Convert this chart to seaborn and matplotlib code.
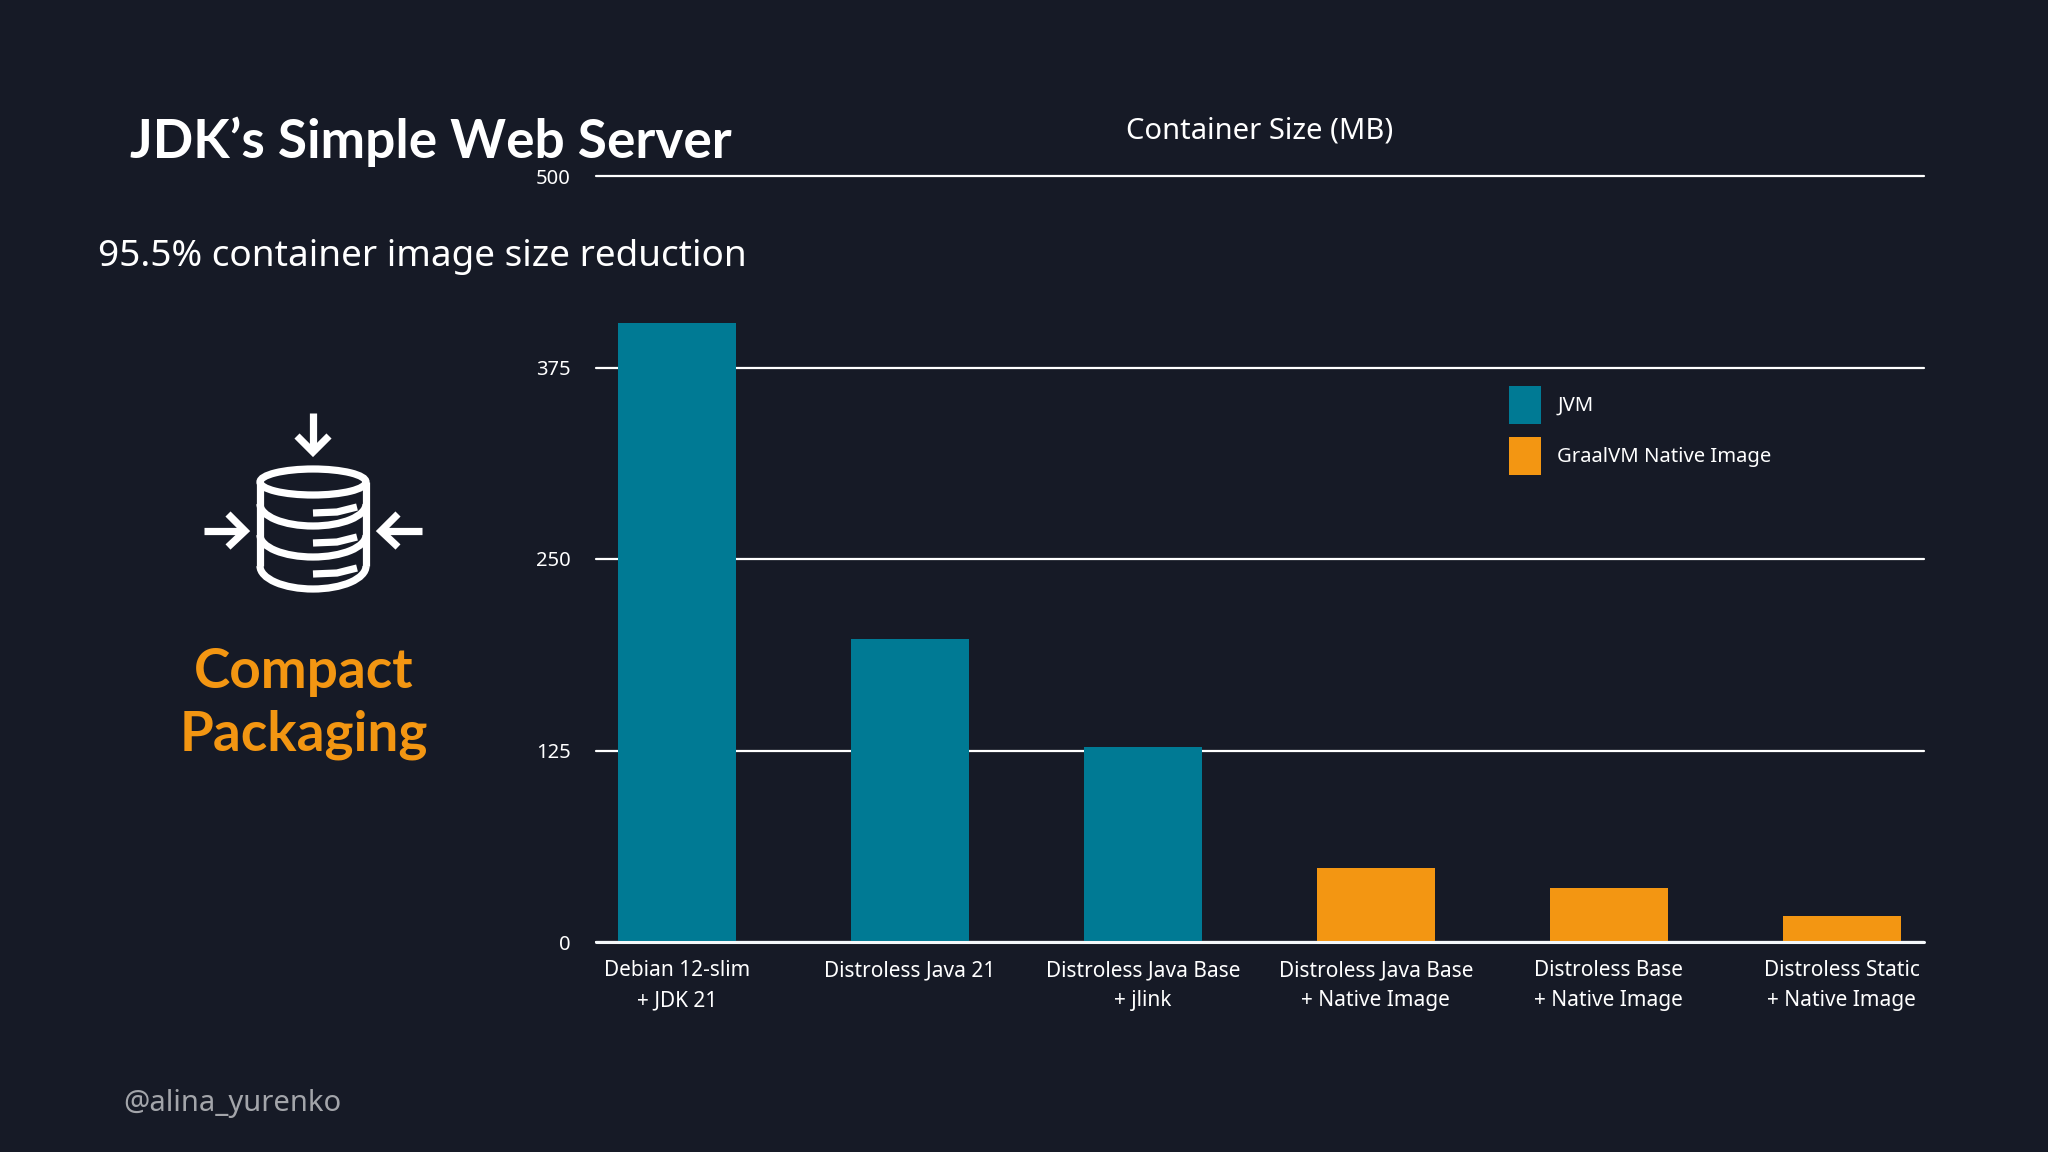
import matplotlib
matplotlib.use("Agg")
import matplotlib.pyplot as plt
from matplotlib.patches import Arc, Ellipse
import pandas as pd
import seaborn as sns

# Values
categories = ["Debian 12-slim\n+ JDK 21", "Distroless Java 21", "Distroless Java Base\n+ jlink",
              "Distroless Java Base\n+ Native Image", "Distroless Base\n+ Native Image",
              "Distroless Static\n+ Native Image"]
sizes_mb = [404, 198, 127, 48, 35, 17]
runtime = ["JVM", "JVM", "JVM", "GraalVM Native Image", "GraalVM Native Image", "GraalVM Native Image"]
y_ticks = [0, 125, 250, 375, 500]

BG = "#161a26"
TEAL = "#007a94"
ORANGE = "#f39612"
W, H = 2048, 1152

sns.set_theme(style="white")
plt.rcParams["font.family"] = ["Noto Sans", "DejaVu Sans"]
plt.rcParams["text.color"] = "white"

df = pd.DataFrame({"category": categories, "size": sizes_mb, "runtime": runtime})

fig = plt.figure(figsize=(W / 100, H / 100), dpi=100, facecolor=BG)
ax = fig.add_axes([596 / W, 1 - 942 / H, (1924 - 596) / W, (942 - 176) / H], facecolor=BG)

sns.barplot(data=df, x="category", y="size", hue="runtime", dodge=False, width=0.505, saturation=1,
            palette={"JVM": TEAL, "GraalVM Native Image": ORANGE}, ax=ax, zorder=3, linewidth=0)

# Axes
ax.set_xlim(-0.3475, 5.353)
ax.set_ylim(0, 500)
ax.set_yticks(y_ticks)
ax.set_xlabel("")
ax.set_ylabel("")
sns.despine(ax=ax, left=True, bottom=True, top=True, right=True)
ax.grid(axis="y", color="white", lw=1.6)
ax.set_axisbelow(True)
for line in ax.get_ygridlines():
    line.set_clip_on(False)
ax.axhline(0, color="#f4f8fa", lw=2.2, zorder=5, clip_on=False)
ax.tick_params(axis="y", length=0, pad=18, labelsize=14.5, labelcolor="white")
ax.tick_params(axis="x", length=0, pad=13, labelsize=15, labelcolor="white")
for label in ax.get_xticklabels():
    label.set_linespacing(1.58)
ax.set_title("Container Size (MB)", color="white", fontsize=21, y=1, pad=27, x=0.4995)

# Legend
leg = ax.legend(loc="upper left", bbox_to_anchor=(1509 / W, 1 - 386 / H), bbox_transform=fig.transFigure,
                frameon=False, fontsize=14.6, borderpad=0, borderaxespad=0, handlelength=1.58,
                handleheight=2.5, handletextpad=0.8, labelspacing=0.66, labelcolor="white")
for handle in leg.get_patches():
    handle.set_linewidth(0)

# Slide layer in pixel coordinates: text and icon
over = fig.add_axes([0, 0, 1, 1], zorder=10)
over.set_xlim(0, W)
over.set_ylim(H, 0)
over.axis("off")
over.patch.set_alpha(0)

over.text(130, 142, "JDK’s Simple Web Server", fontsize=38.3, fontfamily="Lato", fontweight="bold", va="center")
over.text(98, 257, "95.5% container image size reduction", fontsize=26.6, va="center")
over.text(304, 672, "Compact", fontsize=39.5, fontfamily="Lato", fontweight="bold", color=ORANGE, ha="center", va="center")
over.text(304, 735, "Packaging", fontsize=39.5, fontfamily="Lato", fontweight="bold", color=ORANGE, ha="center", va="center")
over.text(123, 1104, "@alina_yurenko", fontsize=21, color="#a3a5aa", va="center")

# Compress icon
lw = 5.2
def stroke(xs, ys):
    over.plot(xs, ys, color="white", lw=lw, solid_capstyle="butt", solid_joinstyle="miter")

stroke([313, 313], [413, 452])
stroke([297, 313, 329], [436, 452, 436])
stroke([204, 244], [531, 531])
stroke([228, 245, 228], [514, 531, 547])
stroke([422, 382], [531, 531])
stroke([398, 381, 398], [514, 531, 547])

over.add_patch(Ellipse((313, 482), 106, 26, fill=False, ec="white", lw=lw))
stroke([260, 260], [482, 566])
stroke([366, 366], [482, 566])
for cy in [504, 535, 566]:
    over.add_patch(Arc((313, cy), 106, 46 if cy == 566 else 44, theta1=0, theta2=180, color="white", lw=lw))
for y0 in [512, 542, 573]:
    stroke([313, 337, 357], [y0 + 1, y0, y0 - 5])

fig.savefig("out.png", dpi=100, facecolor=BG)
